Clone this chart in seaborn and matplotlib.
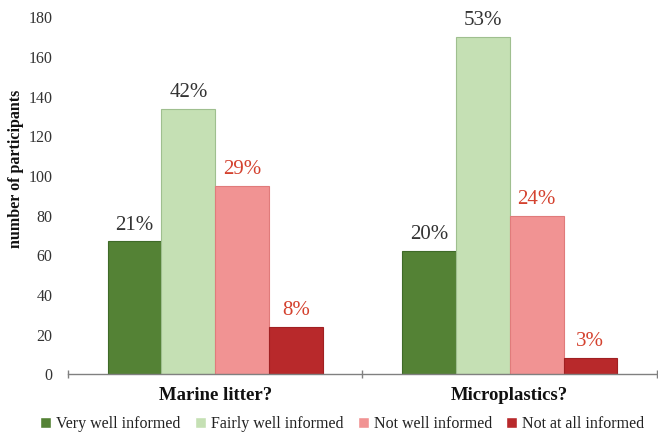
import matplotlib
matplotlib.use("Agg")
import matplotlib.pyplot as plt
import seaborn as sns
import pandas as pd

# Survey responses: how informed participants feel about each topic
topics = ["Marine litter?", "Microplastics?"]
levels = ["Very well informed", "Fairly well informed", "Not well informed", "Not at all informed"]
marine_counts = [67, 134, 95, 24]
micro_counts = [62, 170, 80, 8]
marine_pct = ["21%", "42%", "29%", "8%"]
micro_pct = ["20%", "53%", "24%", "3%"]
y_ticks = [0, 20, 40, 60, 80, 100, 120, 140, 160, 180]

colors = ["#548235", "#c5e0b4", "#f19393", "#b8292b"]
edge_colors = ["#3f6a28", "#9fbf8f", "#e07b7b", "#a02022"]
label_colors = ["#333333", "#333333", "#d4422f", "#d4422f"]

rows = []
for lvl, a, b in zip(levels, marine_counts, micro_counts):
    rows.append({"topic": topics[0], "level": lvl, "count": a})
    rows.append({"topic": topics[1], "level": lvl, "count": b})
df = pd.DataFrame(rows)

sns.set_theme(style="white")
plt.rcParams["font.family"] = ["Liberation Serif", "DejaVu Serif"]

fig = plt.figure(figsize=(6.58, 4.37), dpi=100)
ax = fig.add_axes([0.1033, 0.1435, 0.8952, 0.8165])

sns.barplot(data=df, x="topic", y="count", hue="level", order=topics,
            hue_order=levels, palette=colors, width=0.73, gap=0,
            saturation=1, ax=ax, legend=True)

pct_by_level = list(zip(marine_pct, micro_pct))
for i, cont in enumerate(ax.containers):
    for patch in cont:
        patch.set_edgecolor(edge_colors[i])
        patch.set_linewidth(0.8)
    ax.bar_label(cont, labels=list(pct_by_level[i]), padding=5,
                 color=label_colors[i], fontsize=15)

ax.set_ylim(0, 180)
ax.set_xlim(-0.5, 1.5)
ax.set_yticks(y_ticks)
ax.tick_params(axis="y", length=0, labelsize=11.5, labelcolor="#333333", pad=11)
ax.tick_params(axis="x", length=0, labelsize=13.5, pad=9)
for lbl in ax.get_xticklabels():
    lbl.set_fontweight("bold")
    lbl.set_color("#111111")
ax.set_xticks([-0.5, 0.5, 1.5], minor=True)
ax.tick_params(axis="x", which="minor", bottom=True, length=6, direction="inout",
               color="#808080", width=1)
ax.set_xlabel("")
ax.set_ylabel("number of participants", fontsize=11.5, fontweight="bold",
              color="#111111")
ax.yaxis.set_label_coords(-0.074, 0.575)

for side in ["left", "right", "top"]:
    ax.spines[side].set_visible(False)
ax.spines["bottom"].set_color("#808080")
ax.spines["bottom"].set_linewidth(1)

handles, labels = ax.get_legend_handles_labels()
ax.legend(handles, labels, loc="lower center", bbox_to_anchor=(0.52, -0.022),
          bbox_transform=fig.transFigure, ncol=4, frameon=False,
          fontsize=11.5, handlelength=0.7, handleheight=0.7,
          handletextpad=0.3, columnspacing=0.9, labelcolor="#222222")

fig.savefig("out.png", dpi=100)
